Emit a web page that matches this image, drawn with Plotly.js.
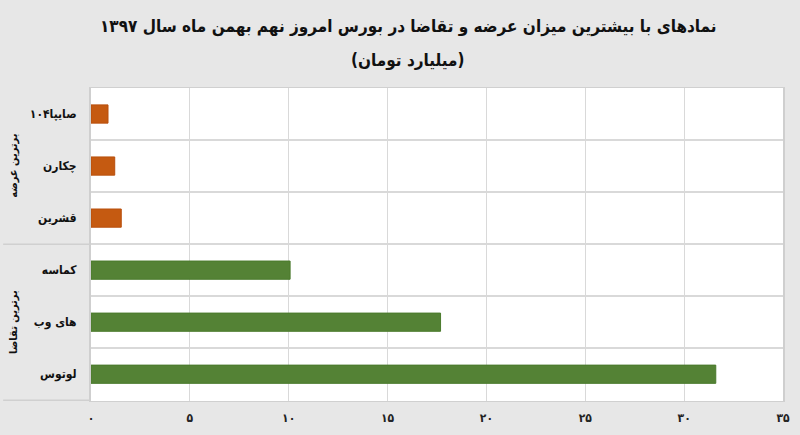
<!DOCTYPE html>
<html>
<head>
<meta charset="utf-8">
<script src="https://cdn.plot.ly/plotly-3.0.1.min.js"></script>
<style>html,body{margin:0;padding:0;background:#e7e7e7;}#chart{width:800px;height:435px;}</style>
</head>
<body>
<div id="chart"></div>
<script>
// Data
const supplyCategories = ["صایپا۱۰۴", "چکارن", "قشرین"];
const supplyValues = [0.86, 1.2, 1.53];
const demandCategories = ["کماسه", "های وب", "لوتوس"];
const demandValues = [10.07, 17.68, 31.6];
const groupLabels = ["برترین عرضه", "برترین تقاضا"];
const tickValues = [0, 5, 10, 15, 20, 25, 30, 35];
const tickLabels = ["۰", "۵", "۱۰", "۱۵", "۲۰", "۲۵", "۳۰", "۳۵"];
const titleLine1 = "نمادهای با بیشترین میزان عرضه و تقاضا در بورس امروز نهم بهمن ماه سال ۱۳۹۷";
const titleLine2 = "(میلیارد تومان)";

const allCats = supplyCategories.concat(demandCategories);
const font = "DejaVu Sans Condensed, DejaVu Sans, sans-serif";

const traces = [
  {type: "bar", orientation: "h", x: supplyValues, y: supplyCategories, width: 0.35,
   marker: {color: "#c55a11", line: {color: "#b84f0c", width: 1}}, hoverinfo: "x+y"},
  {type: "bar", orientation: "h", x: demandValues, y: demandCategories, width: 0.35,
   marker: {color: "#548235", line: {color: "#4a7a2c", width: 1}}, hoverinfo: "x+y"}
];

const layout = {
  width: 800, height: 435,
  margin: {l: 91, r: 17, t: 88, b: 34},
  paper_bgcolor: "#e7e7e7",
  plot_bgcolor: "#ffffff",
  showlegend: false,
  barmode: "overlay",
  xaxis: {range: [0, 35], tickvals: tickValues, ticktext: tickLabels, showgrid: true, gridcolor: "#d9d9d9", gridwidth: 1,
          zeroline: false, showline: true, linecolor: "#d0d0d0", mirror: true, ticks: "", ticklabelstandoff: 6,
          tickfont: {family: font, size: 12, color: "#222", weight: "bold"}, fixedrange: true},
  yaxis: {type: "category", categoryorder: "array", categoryarray: allCats, autorange: "reversed",
          tickson: "boundaries", showgrid: true, gridcolor: "#d9d9d9", gridwidth: 1.5, ticks: "",
          showline: true, linecolor: "#cfcfcf", linewidth: 2, mirror: true,
          tickfont: {family: font, size: 12, color: "#111", weight: "bold"}, ticklabelstandoff: 10, fixedrange: true},
  annotations: [
    {text: "<b>" + titleLine1 + "</b>", xref: "paper", yref: "paper", x: 0.5, y: 1.195, xanchor: "center", yanchor: "middle",
     showarrow: false, xshift: -29, font: {family: font, size: 17, color: "#111"}},
    {text: "<b>" + titleLine2 + "</b>", xref: "paper", yref: "paper", x: 0.5, y: 1.089, xanchor: "center", yanchor: "middle",
     showarrow: false, xshift: -29, font: {family: font, size: 17, color: "#111"}},
    {text: groupLabels[0], xref: "paper", yref: "y", x: -0.113, y: 1, textangle: -90, showarrow: false,
     font: {family: font, size: 11, color: "#111", weight: "bold"}, xanchor: "center", yanchor: "middle"},
    {text: groupLabels[1], xref: "paper", yref: "y", x: -0.113, y: 4, textangle: -90, showarrow: false,
     font: {family: font, size: 11, color: "#111", weight: "bold"}, xanchor: "center", yanchor: "middle"}
  ],
  shapes: [
    {type: "line", xref: "paper", yref: "y", x0: -0.127, x1: 0, y0: 2.5, y1: 2.5, line: {color: "#d0d0d0", width: 1.5}},
    {type: "line", xref: "paper", yref: "y", x0: -0.127, x1: 0, y0: 5.5, y1: 5.5, line: {color: "#d0d0d0", width: 1.5}}
  ]
};

Plotly.newPlot("chart", traces, layout, {displayModeBar: false, staticPlot: true});
</script>
</body>
</html>
